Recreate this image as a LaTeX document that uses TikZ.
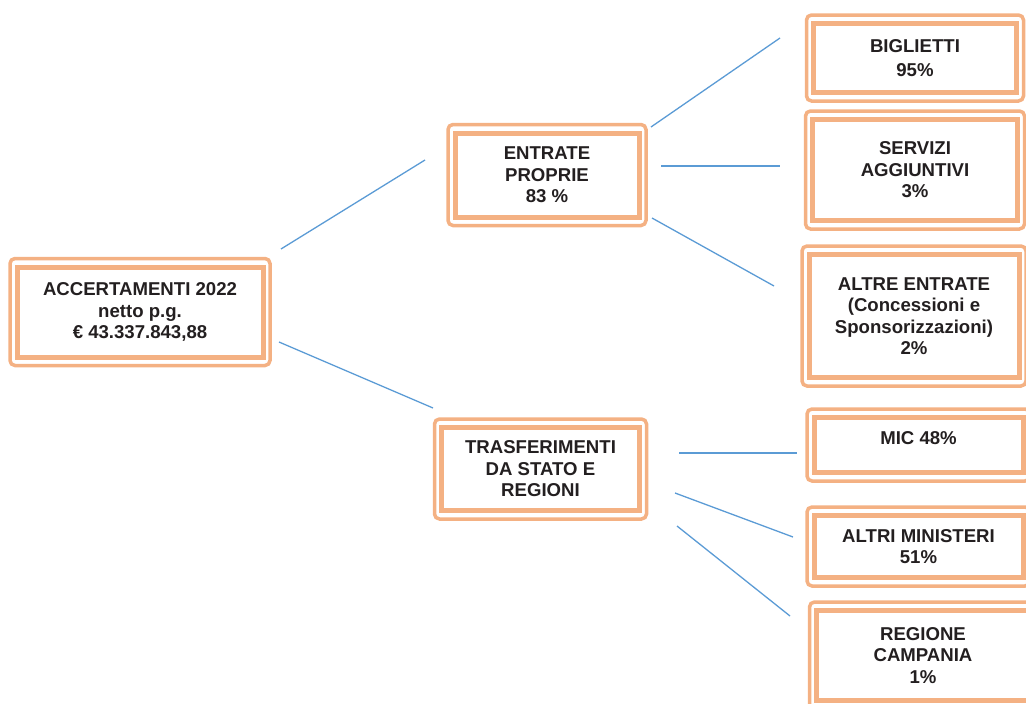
\documentclass[tikz,border=0pt]{standalone}
\usepackage{fontspec}
\setmainfont{Liberation Sans}

\definecolor{boxorange}{RGB}{244,177,131}
\definecolor{linkblue}{RGB}{91,155,213}
\definecolor{textgray}{RGB}{35,31,32}

\tikzset{
    box/.style={draw=boxorange, line width=5pt, outer sep=0pt, inner sep=0pt,
        align=center, text=textgray, font=\fontsize{18.6}{21.5}\selectfont\bfseries},
    frame/.style={draw=boxorange, line width=3.5pt, rounded corners=5pt},
    link/.style={draw=linkblue, line width=1.3pt},
    hlink/.style={draw=linkblue, line width=2.2pt}
}

\begin{document}
\begin{tikzpicture}[x=1pt,y=-1pt]
            \useasboundingbox (0, 0) rectangle (1026, 704);
            \clip (0, 0) rectangle (1026, 704);

            % first level
            \node[box,minimum width=246,minimum height=90] (p1) at (140, 312)
                {ACCERTAMENTI 2022\\netto p.g.\\€ 43.337.843,88};

            % second level
            \node[box,minimum width=184,minimum height=84] (p2) at (547, 175)
                {ENTRATE\\PROPRIE\\83 \%};
            \node[box,minimum width=198,minimum height=83] (p3) at (540.5, 469)
                {TRASFERIMENTI\\DA STATO E\\REGIONI};

            % third level
            \node[box,minimum width=203,minimum height=69] (p4) at (915, 58)
                {BIGLIETTI\\[3pt]95\%};
            \node[box,minimum width=205,minimum height=101] (p5) at (915, 170)
                {SERVIZI\\AGGIUNTIVI\\3\%};
            \node[box,minimum width=210,minimum height=123] (p6) at (914, 316)
                {ALTRE ENTRATE\\(Concessioni e\\Sponsorizzazioni)\\2\%};
            \node[box,minimum width=209,minimum height=55] (p7) at (918.5, 445)
                {MIC 48\%\\[-7pt]\mbox{}};
            \node[box,minimum width=209,minimum height=62] (p8) at (918.5, 546.5)
                {ALTRI MINISTERI\\51\%};
            \node[box,minimum width=213,minimum height=90] (p9) at (923, 655.5)
                {REGIONE\\CAMPANIA\\1\%};

            \foreach \i in {1,...,9}
                \draw[frame] ([shift={(-7pt,8.5pt)}]p\i.north west)
                    rectangle ([shift={(7pt,-8.5pt)}]p\i.south east);

            % connector ends
            \coordinate (q1) at (281, 249);
            \coordinate (q2) at (425, 160);
            \coordinate (q3) at (279, 342);
            \coordinate (q4) at (433, 408);
            \coordinate (q5) at (651, 127);
            \coordinate (q6) at (780, 38);
            \coordinate (q7) at (661, 166);
            \coordinate (q8) at (780, 166);
            \coordinate (q9) at (652, 218);
            \coordinate (q10) at (774, 286);
            \coordinate (q11) at (679, 453);
            \coordinate (q12) at (797, 453);
            \coordinate (q13) at (675, 493);
            \coordinate (q14) at (793, 537);
            \coordinate (q15) at (677, 526);
            \coordinate (q16) at (790, 616);

            \draw[link] (q1) -- (q2);
            \draw[link] (q3) -- (q4);
            \draw[link] (q5) -- (q6);
            \draw[hlink] (q7) -- (q8);
            \draw[link] (q9) -- (q10);
            \draw[hlink] (q11) -- (q12);
            \draw[link] (q13) -- (q14);
            \draw[link] (q15) -- (q16);
\end{tikzpicture}
\end{document}
